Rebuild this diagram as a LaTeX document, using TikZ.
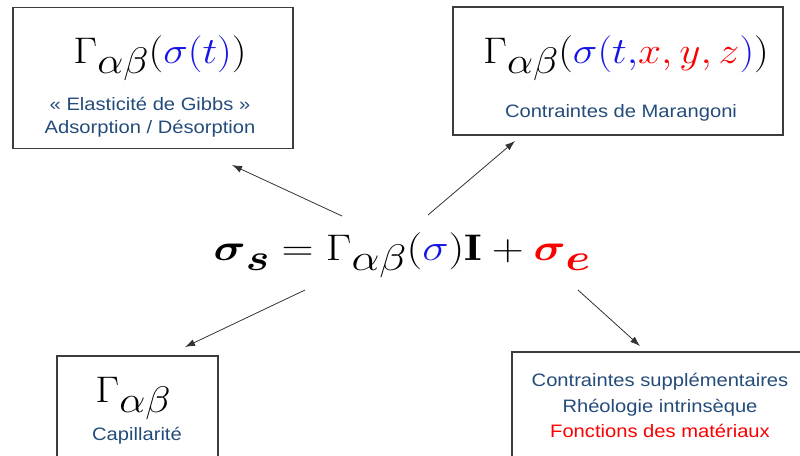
\RequirePackage{fix-cm}
\documentclass[tikz,border=0pt]{standalone}
\usepackage{amsmath,amssymb}
\usepackage{bm}
\usepackage{graphicx}
\usepackage{fontspec}
\setsansfont{Liberation Sans}
\usetikzlibrary{arrows.meta}
\definecolor{txtblue}{RGB}{36,76,122}
\definecolor{sblue}{RGB}{20,20,230}
\definecolor{sred}{RGB}{250,0,0}
\definecolor{boxgray}{RGB}{60,60,60}
\newcommand{\lsub}[1]{\lower0.28em\hbox{$#1$}}
\newcommand{\sx}[2]{\scalebox{#1}[1]{#2}}
\tikzset{
  box/.style={draw=boxgray, line width=1.4pt, rectangle, inner sep=0pt},
  lbl/.style={font=\sffamily\fontsize{18}{22}\selectfont, text=txtblue, anchor=base, inner sep=0pt},
  frm/.style={font=\fontsize{37}{44}\selectfont, anchor=base, inner sep=0pt},
  arr/.style={draw=black!80, line width=0.8pt, -{Latex[length=10pt,width=7pt]}}
}
\begin{document}
\begin{tikzpicture}[x=1pt,y=-1pt]
\useasboundingbox (0,0) rectangle (800,455);
% boxes
\node[box, minimum width=280pt, minimum height=141pt] (b1) at (153,78) {};
\node[box, minimum width=330pt, minimum height=128pt] (b2) at (618,71) {};
\node[box, minimum width=161pt, minimum height=109pt] (b3) at (137.5,410.5) {};
\node[box, minimum width=298pt, minimum height=113pt] (b4) at (661,408.5) {};
% box 1
\node[frm] (f1) at (160,63) {\sx{1.12}{$\Gamma\lsub{\alpha\beta}(\textcolor{sblue}{\sigma(t)})$}};
\node[lbl] (t1a) at (150,110) {\sx{1.12}{« Elasticité de Gibbs »}};
\node[lbl] (t1b) at (150,133) {\sx{1.12}{Adsorption / Désorption}};
% box 2
\node[frm] (f2) at (626,63) {\sx{1.12}{$\Gamma\lsub{\alpha\beta}(\textcolor{sblue}{\sigma(t,}\textcolor{sred}{x,y,z}\textcolor{sblue}{)})$}};
\node[lbl] (t2) at (621,117) {\sx{1.12}{Contraintes de Marangoni}};
% box 3
\node[frm] (f3) at (133,402) {\sx{1.12}{$\Gamma\lsub{\alpha\beta}$}};
\node[lbl] (t3) at (137,440) {\sx{1.12}{Capillarité}};
% box 4
\node[lbl] (t4a) at (660,386) {\sx{1.12}{Contraintes supplémentaires}};
\node[lbl] (t4b) at (660,412) {\sx{1.12}{Rhéologie intrinsèque}};
\node[lbl, text=sred] (t4c) at (660,437) {\sx{1.12}{Fonctions des matériaux}};
% main equation
\node[frm] (eq) at (402,260) {\sx{1.2}{$\bm{\sigma}\lsub{\bm{s}} = \Gamma\lsub{\alpha\beta}(\textcolor{sblue}{\sigma})\mathbf{I} + \textcolor{sred}{\bm{\sigma}\lsub{\bm{e}}}$}};
% arrows
\coordinate (s1) at (342,216); \coordinate (e1) at (232,165);
\coordinate (s2) at (428,215); \coordinate (e2) at (515,141);
\coordinate (s3) at (305,290); \coordinate (e3) at (185,347);
\coordinate (s4) at (578,290); \coordinate (e4) at (640,346);
\draw[arr] (s1) -- (e1);
\draw[arr] (s2) -- (e2);
\draw[arr] (s3) -- (e3);
\draw[arr] (s4) -- (e4);
\end{tikzpicture}
\end{document}
